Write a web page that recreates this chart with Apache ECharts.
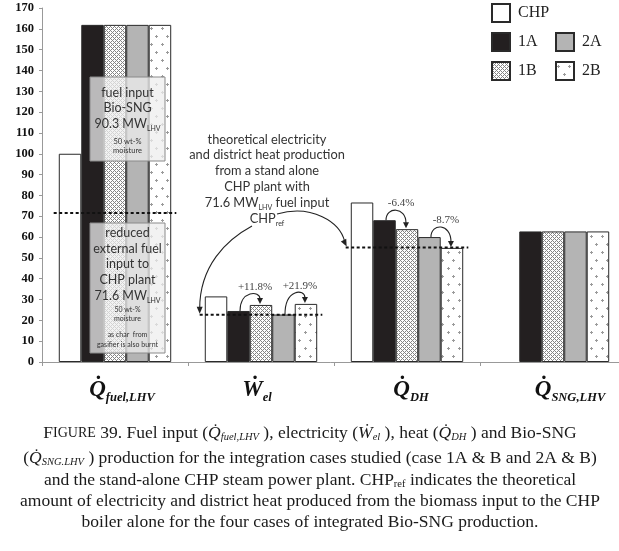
<!DOCTYPE html>
<html>
<head>
<meta charset="utf-8">
<script src="https://cdn.jsdelivr.net/npm/echarts@6/dist/echarts.min.js"></script>
<style>
  html, body { margin: 0; padding: 0; background: #fff; }
  #chart { width: 619px; height: 551px; }
</style>
</head>
<body>
<div id="chart"></div>
<script>
// categories (x axis) : main symbol + subscript
var catMain = ['Q\u0307', '\u1E86', 'Q\u0307', 'Q\u0307'];
var catSub = ['fuel,LHV', 'el', 'DH', 'SNG,LHV'];
var categories = ['Qfuel,LHV', 'Wel', 'QDH', 'QSNG,LHV'];

// MW values
var seriesNames = ['CHP', '1A', '1B', '2A', '2B'];
var chpValues = [100, 31.5, 76.6, '-'];
var case1A = [161.9, 24.5, 68.1, 62.7];
var case1B = [161.9, 27.4, 63.8, 62.7];
var case2A = [161.9, 22.8, 60.0, 62.7];
var case2B = [161.9, 27.9, 54.8, 62.7];
var chpRef = [71.6, 22.7, 55.0, '-']; // dashed CHPref levels

// small % arrows: category, from bar, to bar, text
var arrowCat = [1, 1, 2, 2];
var arrowFrom = [1, 3, 1, 3];
var arrowTo = [2, 4, 2, 4];
var arrowText = ['+11.8%', '+21.9%', '-6.4%', '-8.7%'];

var yMin = 0, yMax = 170, yStep = 10;

var SERIF = "'Liberation Serif', 'Times New Roman', serif";
var SANS = "Lato, 'Noto Sans', sans-serif";
var GAP = 0.23;
var LABEL_NUDGE = [14, -8, 8, 34]; // spacer widths: + pushes label right, - pushes left

var allValues = [chpValues, case1A, case1B, case2A, case2B];

function makePattern(kind){
  var c = document.createElement('canvas');
  var g;
  if(kind === 'check'){
    c.width = 4; c.height = 4;
    g = c.getContext('2d');
    g.fillStyle = '#fff'; g.fillRect(0, 0, 4, 4);
    g.fillStyle = '#858585';
    for(var x = 0; x < 4; x++){
      for(var y = 0; y < 4; y++){
        if((x + y) % 4 === 0 || (x - y + 4) % 4 === 0){ g.fillRect(x, y, 1, 1); }
      }
    }
  } else {
    c.width = 11; c.height = 16;
    g = c.getContext('2d');
    g.fillStyle = '#fff'; g.fillRect(0, 0, 11, 16);
    g.fillStyle = '#9a9a9a';
    g.fillRect(1, 4, 3, 1); g.fillRect(2, 3, 1, 3);
    g.fillRect(7, 12, 3, 1); g.fillRect(8, 11, 1, 3);
  }
  return {image: c, repeat: 'repeat'};
}

var fills = ['#ffffff', '#231f20', makePattern('check'), '#b4b4b4', makePattern('dots')];

var series = [];
for(var k = 0; k < seriesNames.length; k++){
  series.push({
    type: 'bar',
    name: seriesNames[k],
    data: allValues[k],
    barGap: '0%',
    barCategoryGap: (GAP * 100) + '%',
    itemStyle: {color: fills[k], borderColor: '#2a2a2a', borderWidth: 1},
    emphasis: {disabled: true},
    z: 2
  });
}

// dashed CHPref lines
series.push({
  type: 'custom',
  name: 'ref',
  silent: true,
  z: 6,
  data: chpRef.map(function(v, i){ return [i, v]; }),
  renderItem: function(params, api){
    var v = api.value(1);
    if(isNaN(v)) { return; }
    var p = api.coord([api.value(0), v]);
    var half = api.size([1, 0])[0] * 0.42;
    return {
      type: 'line',
      shape: {x1: p[0] - half, y1: p[1], x2: p[0] + half, y2: p[1]},
      style: {stroke: '#111', lineWidth: 2, lineDash: [3, 2.5]}
    };
  }
});

// small curved arrows with % text
series.push({
  type: 'custom',
  name: 'arrows',
  silent: true,
  z: 7,
  data: arrowCat.map(function(c, i){ return [c, i]; }),
  renderItem: function(params, api){
    var i = params.dataIndex;
    var cat = arrowCat[i];
    var barW = api.size([1, 0])[0] * (1 - GAP) / 5;
    var center = api.coord([cat, 0])[0];
    var xs = center + (arrowFrom[i] - 2) * barW + 1.5;
    var xe = center + (arrowTo[i] - 2) * barW - 1;
    var ys = api.coord([cat, allValues[arrowFrom[i]][cat]])[1];
    var ye = api.coord([cat, allValues[arrowTo[i]][cat]])[1] - 1;
    var peak = Math.min(ys, ye) - 10;
    var yc = (peak - (ys + ye - 5) / 8) / 0.75;
    return {
      type: 'group',
      children: [
        {type: 'bezierCurve', shape: {x1: xs, y1: ys, cpx1: xs, cpy1: yc, cpx2: xe, cpy2: yc, x2: xe, y2: ye - 5},
          style: {stroke: '#222', fill: null, lineWidth: 1.1}},
        {type: 'polygon', shape: {points: [[xe - 3, ye - 6], [xe + 3, ye - 6], [xe, ye]]}, style: {fill: '#222'}},
        {type: 'text', style: {text: arrowText[i], x: (xs + xe) / 2 + 5, y: peak - 7, align: 'center', verticalAlign: 'middle',
          fontFamily: SERIF, fontSize: 11, fill: '#444'}}
      ]
    };
  }
});

function legendAt(name, left, top){
  return {
    data: [name], left: left, top: top, padding: 0, itemWidth: 18, itemHeight: 18, icon: 'rect',
    selectedMode: false,
    textStyle: {fontFamily: SERIF, fontSize: 16, color: '#222', padding: [0, 0, 0, 3]}
  };
}

var chart = echarts.init(document.getElementById('chart'), null, {renderer: 'canvas'});
chart.setOption({
  animation: false,
  backgroundColor: '#fff',
  grid: {left: 42, right: -7, top: 8, bottom: 189, outerBoundsMode: 'none', containLabel: false},
  legend: [
    legendAt('CHP', 491, 3),
    legendAt('1A', 491, 32),
    legendAt('2A', 555, 32),
    legendAt('1B', 491, 61),
    legendAt('2B', 555, 61)
  ],
  xAxis: {
    type: 'category',
    data: categories,
    axisLine: {lineStyle: {color: '#999', width: 1}},
    axisTick: {show: true, length: 4, lineStyle: {color: '#999'}},
    axisLabel: {
      interval: 0,
      margin: 14,
      formatter: function(v, i){
        var n = LABEL_NUDGE[i];
        var txt = '{m|' + catMain[i] + '}{s|' + catSub[i] + '}';
        return n >= 0 ? '{p' + i + '|}' + txt : txt + '{p' + i + '|}';
      },
      rich: {
        m: {fontFamily: SERIF, fontSize: 23, fontWeight: 'bold', fontStyle: 'italic', color: '#111', lineHeight: 28},
        s: {fontFamily: SERIF, fontSize: 12.5, fontWeight: 'bold', fontStyle: 'italic', color: '#111', lineHeight: 13, verticalAlign: 'bottom'},
        p0: {width: Math.abs(LABEL_NUDGE[0])},
        p1: {width: Math.abs(LABEL_NUDGE[1])},
        p2: {width: Math.abs(LABEL_NUDGE[2])},
        p3: {width: Math.abs(LABEL_NUDGE[3])}
      }
    }
  },
  yAxis: {
    type: 'value',
    min: yMin, max: yMax, interval: yStep,
    name: 'MW',
    nameLocation: 'middle',
    nameGap: 24,
    nameTextStyle: {fontFamily: SERIF, fontSize: 21, fontWeight: 'bold', color: '#111'},
    axisLine: {show: true, lineStyle: {color: '#999', width: 1}},
    axisTick: {show: true, length: 3, lineStyle: {color: '#999'}},
    splitLine: {show: false},
    axisLabel: {fontFamily: SERIF, fontSize: 12.5, fontWeight: 'bold', color: '#111', margin: 8}
  },
  series: series
});

// annotations placed after the axes are known
var origin = chart.convertToPixel({gridIndex: 0}, [0, 0]);
var band = chart.convertToPixel({gridIndex: 0}, [1, 0])[0] - origin[0];
var endL = chart.convertToPixel({gridIndex: 0}, [1, chpRef[1]]);
var endR = chart.convertToPixel({gridIndex: 0}, [2, chpRef[2]]);
endL[0] -= band * 0.42;
endR[0] -= band * 0.42;

function arrowHead(x, y, ang){
  var l = 7, w = 3;
  var bx = x - Math.cos(ang) * l, by = y - Math.sin(ang) * l;
  var nx = -Math.sin(ang) * w, ny = Math.cos(ang) * w;
  return {type: 'polygon', z: 20, shape: {points: [[x, y], [bx + nx, by + ny], [bx - nx, by - ny]]}, style: {fill: '#222'}};
}

var subRich = {
  s: {fontFamily: SANS, fontSize: 7, fill: '#333', lineHeight: 8, verticalAlign: 'bottom'}
};
function sansLine(text, x, y, size, lh){
  return {type: 'text', z: 30, style: {text: text, x: x, y: y, align: 'center', verticalAlign: 'middle',
    fontFamily: SANS, fontSize: size, lineHeight: lh, fill: '#333', rich: subRich}};
}

var capRich = {
  sc: {fontFamily: SERIF, fontSize: 14, fill: '#1a1a1a', lineHeight: 20},
  q: {fontFamily: SERIF, fontSize: 17.5, fontStyle: 'italic', fill: '#1a1a1a', lineHeight: 20},
  s: {fontFamily: SERIF, fontSize: 10.5, fontStyle: 'italic', fill: '#1a1a1a', lineHeight: 10, verticalAlign: 'bottom'},
  r: {fontFamily: SERIF, fontSize: 10.5, fill: '#1a1a1a', lineHeight: 10, verticalAlign: 'bottom'}
};
function capLine(text, y){
  return {type: 'text', z: 30, style: {text: text, x: 310, y: y, align: 'center', verticalAlign: 'middle',
    fontFamily: SERIF, fontSize: 17.5, lineHeight: 20, fill: '#1a1a1a', rich: capRich}};
}

var cx = 127.5;
var BOX = 12.5, NOTE = 12.8;
var graphic = [
  // box 1
  {type: 'rect', z: 25, shape: {x: 90, y: 77, width: 75, height: 84}, style: {fill: 'rgba(238,238,238,0.75)', stroke: '#8a8a8a', lineWidth: 1}},
  sansLine('fuel input', cx, 93, BOX, 16),
  sansLine('Bio-SNG', cx, 108, BOX, 16),
  sansLine('90.3 MW{s|LHV}', cx, 124, BOX, 16),
  sansLine('50 wt-%', cx, 142, 7.5, 9),
  sansLine('moisture', cx, 151, 7.5, 9),
  // box 2
  {type: 'rect', z: 25, shape: {x: 90, y: 223, width: 75, height: 130}, style: {fill: 'rgba(238,238,238,0.75)', stroke: '#8a8a8a', lineWidth: 1}},
  sansLine('reduced', cx, 233, BOX, 16),
  sansLine('external fuel', cx, 249, BOX, 16),
  sansLine('input to', cx, 264, BOX, 16),
  sansLine('CHP plant', cx, 280, BOX, 16),
  sansLine('71.6 MW{s|LHV}', cx, 296, BOX, 16),
  sansLine('50 wt-%', cx, 310, 7, 9),
  sansLine('moisture', cx, 319, 7, 9),
  sansLine('as char  from', cx, 335, 7, 9),
  sansLine('gasifier is also burnt', cx, 345, 7, 9),
  // central note
  sansLine('theoretical electricity', 267, 140, NOTE, 16),
  sansLine('and district heat production', 267, 155, NOTE, 16),
  sansLine('from a stand alone', 267, 171, NOTE, 16),
  sansLine('CHP plant with', 267, 187, NOTE, 16),
  sansLine('71.6 MW{s|LHV} fuel input', 267, 203, NOTE, 16),
  sansLine('CHP{s|ref}', 267, 219, NOTE, 16),
  // CHPref arcs
  {type: 'bezierCurve', z: 20, shape: {x1: 252, y1: 226, cpx1: 226, cpy1: 240, cpx2: endL[0], cpy2: 266, x2: endL[0], y2: endL[1] - 6},
    style: {stroke: '#222', fill: null, lineWidth: 1.1}},
  arrowHead(endL[0], endL[1] - 1, Math.PI / 2),
  {type: 'bezierCurve', z: 20, shape: {x1: 277, y1: 214, cpx1: 312, cpy1: 204, cpx2: 340, cpy2: 222, x2: endR[0] - 1, y2: endR[1] - 6},
    style: {stroke: '#222', fill: null, lineWidth: 1.1}},
  arrowHead(endR[0] + 1, endR[1] - 1, Math.atan2(6, 3)),
  // caption
  capLine('F{sc|IGURE} 39. Fuel input ({q|Q\u0307}{s|fuel,LHV} ), electricity ({q|\u1E86}{s|el} ), heat ({q|Q\u0307}{s|DH} ) and Bio-SNG', 433),
  capLine('({q|Q\u0307}{s|SNG.LHV} ) production for the integration cases studied (case 1A & B and 2A & B)', 458),
  capLine('and the stand-alone CHP steam power plant. CHP{r|ref} indicates the theoretical', 480),
  capLine('amount of electricity and district heat produced from the biomass input to the CHP', 501),
  capLine('boiler alone for the four cases of integrated Bio-SNG production.', 522)
];
chart.setOption({graphic: graphic});
</script>
</body>
</html>
